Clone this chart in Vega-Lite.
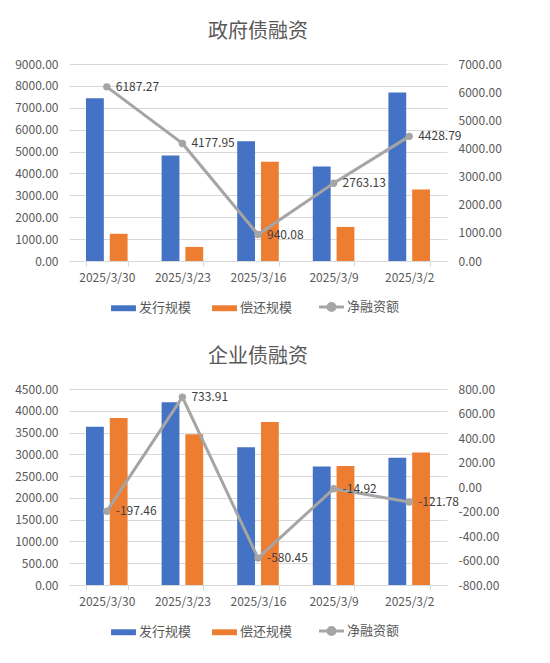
{
  "$schema": "https://vega.github.io/schema/vega-lite/v6.json",
  "padding": {"left": 14, "top": 22, "right": 10, "bottom": 5},
  "datasets": {
    "gov": [
      {"date": "2025/3/30", "issue": 7430, "repay": 1242.73, "net": 6187.27},
      {"date": "2025/3/23", "issue": 4820, "repay": 642.05, "net": 4177.95},
      {"date": "2025/3/16", "issue": 5470, "repay": 4529.92, "net": 940.08},
      {"date": "2025/3/9", "issue": 4320, "repay": 1556.87, "net": 2763.13},
      {"date": "2025/3/2", "issue": 7700, "repay": 3271.21, "net": 4428.79}
    ],
    "corp": [
      {"date": "2025/3/30", "issue": 3635, "repay": 3832.46, "net": -197.46},
      {"date": "2025/3/23", "issue": 4195, "repay": 3461.09, "net": 733.91},
      {"date": "2025/3/16", "issue": 3160, "repay": 3740.45, "net": -580.45},
      {"date": "2025/3/9", "issue": 2720, "repay": 2734.92, "net": -14.92},
      {"date": "2025/3/2", "issue": 2920, "repay": 3041.78, "net": -121.78}
    ]
  },
  "vconcat": [
    {
      "title": {"text": "政府债融资"},
      "width": 378,
      "height": 197,
      "data": {"name": "gov"},
      "encoding": {
        "x": {
          "field": "date",
          "type": "nominal",
          "title": null,
          "scale": {"domain": ["2025/3/30", "2025/3/23", "2025/3/16", "2025/3/9", "2025/3/2"], "paddingInner": 0.45, "paddingOuter": 0.225}
        }
      },
      "layer": [
        {
          "transform": [{"fold": ["issue", "repay"], "as": ["key", "value"]}],
          "mark": "bar",
          "encoding": {
            "xOffset": {"field": "key", "type": "nominal", "scale": {"domain": ["issue", "repay"], "paddingInner": 0.25}},
            "y": {
              "field": "value",
              "type": "quantitative",
              "title": null,
              "scale": {"domain": [0, 9000]},
              "axis": {"orient": "left", "values": [0, 1000, 2000, 3000, 4000, 5000, 6000, 7000, 8000, 9000], "format": ".2f", "grid": true}
            },
            "color": {
              "field": "key",
              "type": "nominal",
              "scale": {"domain": ["issue", "repay", "net"], "range": ["#4472C4", "#ED7D31", "#A5A5A5"]},
              "legend": {
                "labelFontSize": 13,
                "labelColor": "#595959",
                "labelOffset": 9,
                "columnPadding": 20,
                "labelExpr": "datum.value === 'issue' ? '发行规模' : datum.value === 'repay' ? '偿还规模' : '净融资额'",
                "encode": {
                  "symbols": {
                    "update": {
                      "shape": {"signal": "datum.value === 'net' ? 'M-0.88,0H0.88M0.25,0A0.25,0.25,0,1,1,-0.25,0A0.25,0.25,0,1,1,0.25,0Z' : 'M-0.88,-0.21H0.88V0.21H-0.88Z'"},
                      "fill": {"signal": "datum.value === 'issue' ? '#4472C4' : datum.value === 'repay' ? '#ED7D31' : '#A5A5A5'"},
                      "stroke": {"signal": "datum.value === 'issue' ? '#4472C4' : datum.value === 'repay' ? '#ED7D31' : '#A5A5A5'"},
                      "strokeWidth": {"signal": "datum.value === 'net' ? 3 : 0"},
                      "opacity": {"value": 1}
                    }
                  }
                }
              }
            }
          }
        },
        {
          "encoding": {
            "y": {
              "field": "net",
              "type": "quantitative",
              "title": null,
              "scale": {"domain": [0, 7000]},
              "axis": {"orient": "right", "values": [0, 1000, 2000, 3000, 4000, 5000, 6000, 7000], "format": ".2f", "grid": false}
            }
          },
          "layer": [
            {
              "mark": {"type": "line", "strokeWidth": 3, "point": {"filled": true, "size": 55}},
              "encoding": {
                "color": {"datum": "net", "type": "nominal", "scale": {"domain": ["issue", "repay", "net"], "range": ["#4472C4", "#ED7D31", "#A5A5A5"]}}
              }
            },
            {
              "mark": {"type": "text", "align": "left", "baseline": "middle", "dx": 9, "fontSize": 12, "color": "#404040"},
              "encoding": {"text": {"field": "net", "type": "quantitative", "format": ".2f"}}
            }
          ]
        }
      ],
      "resolve": {"scale": {"y": "independent"}}
    },
    {
      "title": {"text": "企业债融资"},
      "width": 378,
      "height": 196,
      "data": {"name": "corp"},
      "encoding": {
        "x": {
          "field": "date",
          "type": "nominal",
          "title": null,
          "scale": {"domain": ["2025/3/30", "2025/3/23", "2025/3/16", "2025/3/9", "2025/3/2"], "paddingInner": 0.45, "paddingOuter": 0.225}
        }
      },
      "layer": [
        {
          "transform": [{"fold": ["issue", "repay"], "as": ["key", "value"]}],
          "mark": "bar",
          "encoding": {
            "xOffset": {"field": "key", "type": "nominal", "scale": {"domain": ["issue", "repay"], "paddingInner": 0.25}},
            "y": {
              "field": "value",
              "type": "quantitative",
              "title": null,
              "scale": {"domain": [0, 4500]},
              "axis": {"orient": "left", "values": [0, 500, 1000, 1500, 2000, 2500, 3000, 3500, 4000, 4500], "format": ".2f", "grid": true}
            },
            "color": {
              "field": "key",
              "type": "nominal",
              "scale": {"domain": ["issue", "repay", "net"], "range": ["#4472C4", "#ED7D31", "#A5A5A5"]},
              "legend": {
                "labelFontSize": 13,
                "labelColor": "#595959",
                "labelOffset": 9,
                "columnPadding": 20,
                "labelExpr": "datum.value === 'issue' ? '发行规模' : datum.value === 'repay' ? '偿还规模' : '净融资额'",
                "encode": {
                  "symbols": {
                    "update": {
                      "shape": {"signal": "datum.value === 'net' ? 'M-0.88,0H0.88M0.25,0A0.25,0.25,0,1,1,-0.25,0A0.25,0.25,0,1,1,0.25,0Z' : 'M-0.88,-0.21H0.88V0.21H-0.88Z'"},
                      "fill": {"signal": "datum.value === 'issue' ? '#4472C4' : datum.value === 'repay' ? '#ED7D31' : '#A5A5A5'"},
                      "stroke": {"signal": "datum.value === 'issue' ? '#4472C4' : datum.value === 'repay' ? '#ED7D31' : '#A5A5A5'"},
                      "strokeWidth": {"signal": "datum.value === 'net' ? 3 : 0"},
                      "opacity": {"value": 1}
                    }
                  }
                }
              }
            }
          }
        },
        {
          "encoding": {
            "y": {
              "field": "net",
              "type": "quantitative",
              "title": null,
              "scale": {"domain": [-800, 800]},
              "axis": {"orient": "right", "values": [-800, -600, -400, -200, 0, 200, 400, 600, 800], "format": ".2f", "grid": false}
            }
          },
          "layer": [
            {
              "mark": {"type": "line", "strokeWidth": 3, "point": {"filled": true, "size": 55}},
              "encoding": {
                "color": {"datum": "net", "type": "nominal", "scale": {"domain": ["issue", "repay", "net"], "range": ["#4472C4", "#ED7D31", "#A5A5A5"]}}
              }
            },
            {
              "mark": {"type": "text", "align": "left", "baseline": "middle", "dx": 9, "fontSize": 12, "color": "#404040"},
              "encoding": {"text": {"field": "net", "type": "quantitative", "format": ".2f"}}
            }
          ]
        }
      ],
      "resolve": {"scale": {"y": "independent"}}
    }
  ],
  "spacing": 30,
  "resolve": {"scale": {"color": "independent"}, "legend": {"color": "independent"}},
  "config": {
    "font": "Noto Sans CJK SC",
    "locale": {"number": {"decimal": ".", "thousands": ",", "grouping": [3], "currency": ["$", ""], "minus": "-"}},
    "view": {"stroke": null},
    "title": {"fontSize": 20, "fontWeight": "normal", "color": "#595959", "offset": 16},
    "axis": {
      "labelColor": "#595959",
      "labelFontSize": 12,
      "domain": false,
      "ticks": false,
      "gridColor": "#D9D9D9",
      "labelPadding": 11
    },
    "axisX": {
      "domain": true,
      "domainColor": "#D9D9D9",
      "ticks": true,
      "tickColor": "#D9D9D9",
      "tickSize": 5,
      "tickBand": "extent",
      "labelAngle": 0,
      "labelPadding": 6,
      "grid": false
    },
    "legend": {
      "orient": "bottom",
      "direction": "horizontal",
      "title": null,
      "symbolSize": 800,
      "offset": 17,
      "layout": {"bottom": {"anchor": "middle"}}
    }
  }
}
